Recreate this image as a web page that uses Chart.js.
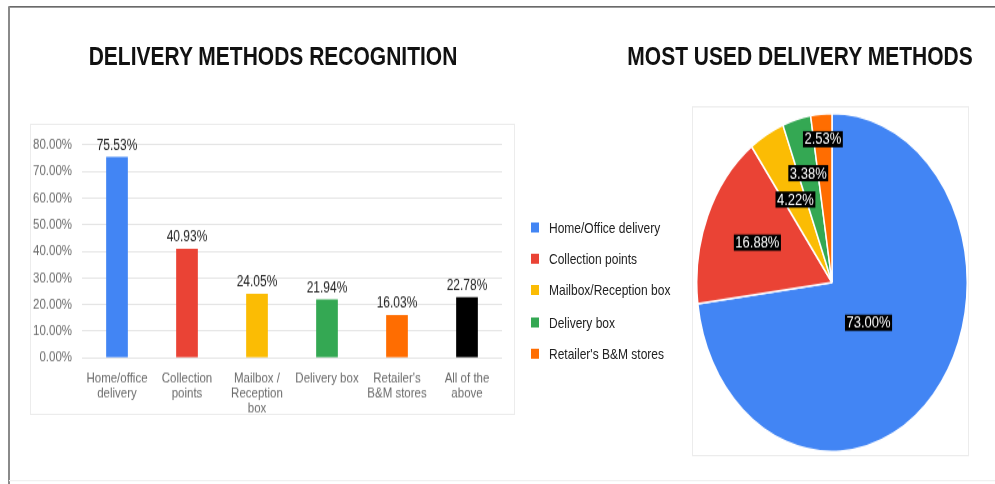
<!DOCTYPE html>
<html>
<head>
<meta charset="utf-8">
<script src="https://cdn.jsdelivr.net/npm/chart.js@4.4.1/dist/chart.umd.min.js"></script>
<style>
    html, body { margin: 0; padding: 0; background: #fff; overflow: hidden; }
    body { width: 995px; height: 484px; font-family: "Liberation Sans", Arial, sans-serif; }
    /* the reference is stretched vertically, so lay out at 1/1.25 height and stretch */
    #stage { position: absolute; left: 0; top: 0; width: 995px; height: 387.2px; transform: scaleY(1.25); transform-origin: 0 0; }
    .frame-top { position: absolute; left: 9px; top: 4.8px; width: 986px; height: 1.6px; background: #3a3a3a; }
    .frame-left { position: absolute; left: 8px; top: 4.8px; width: 1.6px; height: 383px; background: #8a8a8a; }
    .frame-bottom { position: absolute; left: 9px; top: 383.5px; width: 986px; height: 1px; background: #f0f0f0; }
    .title { position: absolute; top: 33.7px; font-weight: bold; font-size: 21px; line-height: 21px; color: #111; white-space: nowrap; transform: translateX(-50%); }
    .box { position: absolute; border: 1px solid #ececec; box-sizing: border-box; }
    #barBox { left: 30px; top: 99.2px; width: 485px; height: 233px; }
    #pieBox { left: 692px; top: 85px; width: 277px; height: 280px; }
    #barChart { position: absolute; left: 30px; top: 99.2px; }
    #pieChart { position: absolute; left: 696px; top: 89.6px; }
    #legend { position: absolute; left: 531px; top: 175px; }
    .item { position: absolute; left: 0; height: 14px; white-space: nowrap; font-size: 12px; line-height: 14px; color: #222; }
    .item span.sw { position: absolute; left: 0; top: 3px; width: 8px; height: 8px; }
    .item span.tx { position: absolute; left: 18px; top: 0; }
</style>
</head>
<body>
<div id="stage">
    <div class="frame-top"></div>
    <div class="frame-left"></div>
    <div class="frame-bottom"></div>
    <div class="title" style="left:273px">DELIVERY METHODS RECOGNITION</div>
    <div class="title" style="left:800px">MOST USED DELIVERY METHODS</div>
    <div class="box" id="barBox"></div>
    <div class="box" id="pieBox"></div>
    <canvas id="barChart" width="485" height="233"></canvas>
    <canvas id="pieChart" width="272" height="272"></canvas>
    <div id="legend"></div>
</div>
<script>
// Left chart: share of respondents who know each delivery method
const recognitionLabels = [
    ['Home/office', 'delivery'],
    ['Collection', 'points'],
    ['Mailbox /', 'Reception', 'box'],
    ['Delivery box'],
    ["Retailer's", 'B&M stores'],
    ['All of the', 'above']
];
const recognitionPct = [75.53, 40.93, 24.05, 21.94, 16.03, 22.78];
const yMax = 80;
const yStep = 10;

// Right chart: most used delivery method
const usageLabels = ['Home/Office delivery', 'Collection points', 'Mailbox/Reception box', 'Delivery box', "Retailer's B&M stores"];
const usagePct = [73.00, 16.88, 4.22, 3.38, 2.53];

const barColors = ['#4285f4', '#ea4335', '#fbbc04', '#34a853', '#ff6d01', '#000000'];
const pieColors = ['#4285f4', '#ea4335', '#fbbc04', '#34a853', '#ff6d01'];

const fontFamily = '"Liberation Sans", Arial, sans-serif';

// value labels above each bar
const barValueLabels = {
    id: 'barValueLabels',
    afterDatasetsDraw(chart) {
        const ctx = chart.ctx;
        const meta = chart.getDatasetMeta(0);
        ctx.save();
        ctx.font = '12px ' + fontFamily;
        ctx.fillStyle = '#222';
        ctx.textAlign = 'center';
        ctx.textBaseline = 'bottom';
        meta.data.forEach((bar, i) => {
            ctx.fillText(recognitionPct[i].toFixed(2) + '%', bar.x, bar.y - 3);
        });
        ctx.restore();
    }
};

new Chart(document.getElementById('barChart'), {
    type: 'bar',
    data: {
        labels: recognitionLabels,
        datasets: [{
            data: recognitionPct,
            backgroundColor: barColors,
            barPercentage: 0.31,
            categoryPercentage: 1
        }]
    },
    options: {
        responsive: false,
        animation: false,
        layout: { padding: { top: 14.4, right: 13, left: 0, bottom: 0 } },
        plugins: { legend: { display: false }, tooltip: { enabled: false } },
        scales: {
            x: {
                grid: { display: false },
                border: { display: false },
                ticks: { color: '#6b6b6b', font: { family: fontFamily, size: 11.5, lineHeight: 1.08 }, padding: 2, maxRotation: 0, autoSkip: false },
                afterFit(scale) { scale.height = 45.8; }
            },
            y: {
                min: 0,
                max: yMax,
                ticks: {
                    stepSize: yStep,
                    color: '#6b6b6b',
                    padding: 10,
                    font: { family: fontFamily, size: 11.5 },
                    callback: v => v.toFixed(2) + '%'
                },
                grid: { color: '#e4e4e4', drawTicks: false },
                border: { display: false },
                afterFit(scale) { scale.width = 52; }
            }
        }
    },
    plugins: [barValueLabels]
});

// percentage tags on the pie, black box with white text
const labelDepth = [0.36, 0.6, 0.56, 0.67, 0.85];
const pieValueLabels = {
    id: 'pieValueLabels',
    afterDatasetsDraw(chart) {
        const ctx = chart.ctx;
        const meta = chart.getDatasetMeta(0);
        ctx.save();
        ctx.font = '13px ' + fontFamily;
        ctx.textAlign = 'center';
        ctx.textBaseline = 'middle';
        meta.data.forEach((arc, i) => {
            const a = (arc.startAngle + arc.endAngle) / 2;
            const r = arc.outerRadius * labelDepth[i];
            const x = arc.x + Math.cos(a) * r;
            const y = arc.y + Math.sin(a) * r;
            const txt = usagePct[i].toFixed(2) + '%';
            const w = ctx.measureText(txt).width + 3;
            ctx.fillStyle = '#000';
            ctx.fillRect(x - w / 2, y - 6.5, w, 13);
            ctx.fillStyle = '#fff';
            ctx.fillText(txt, x, y + 0.5);
        });
        ctx.restore();
    }
};

const pie = new Chart(document.getElementById('pieChart'), {
    type: 'pie',
    data: {
        labels: usageLabels,
        datasets: [{
            data: usagePct,
            backgroundColor: pieColors,
            borderColor: '#ffffff',
            borderWidth: 1.5
        }]
    },
    options: {
        responsive: false,
        animation: false,
        layout: { padding: 0 },
        plugins: { legend: { display: false }, tooltip: { enabled: false } }
    },
    plugins: [pieValueLabels]
});

// legend next to the pie, built from the chart's own legend items
const legendEl = document.getElementById('legend');
pie.options.plugins.legend.labels.generateLabels(pie).forEach((it, i) => {
    const row = document.createElement('div');
    row.className = 'item';
    row.style.top = (i * 25.2) + 'px';
    row.innerHTML = `<span class="sw" style="background:${it.fillStyle}"></span><span class="tx">${it.text}</span>`;
    legendEl.appendChild(row);
});
</script>
</body>
</html>
